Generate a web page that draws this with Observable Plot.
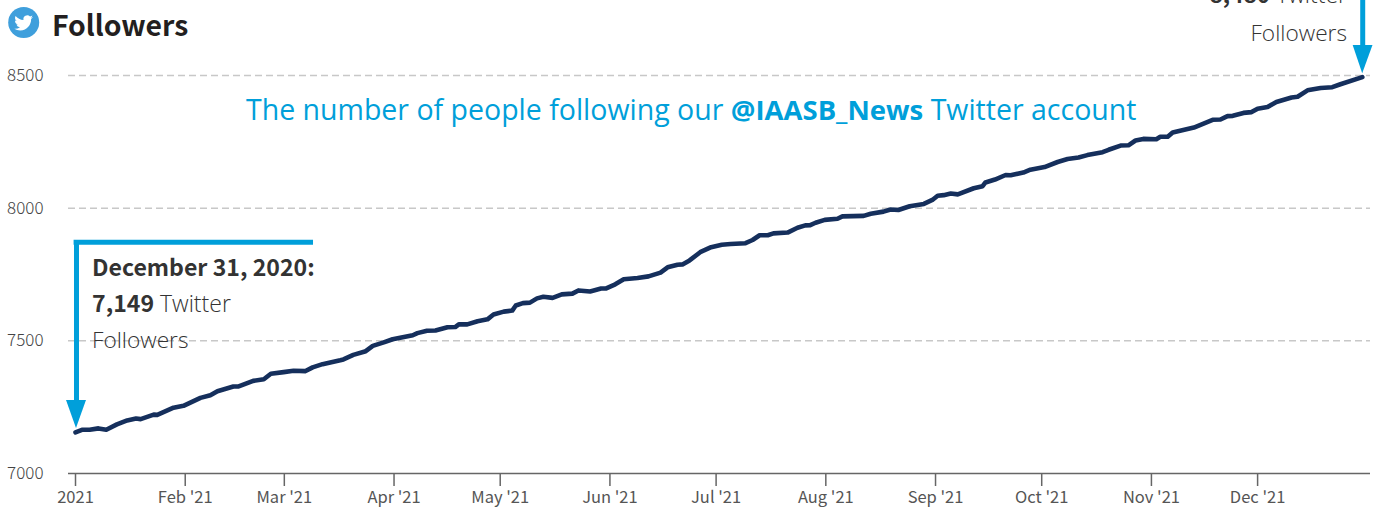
<!DOCTYPE html>
<html><head><meta charset="utf-8">
<script src="https://cdn.jsdelivr.net/npm/d3@7"></script>
<script src="https://cdn.jsdelivr.net/npm/@observablehq/plot@0.6"></script>
<style>
html,body{margin:0;padding:0;background:#fff;overflow:hidden}
#wrap{position:relative;width:1384px;height:510px;overflow:hidden}
#chart svg{display:block}
.t{position:absolute;white-space:nowrap;line-height:1}
.src{font-family:"Noto Sans CJK SC","Noto Sans",sans-serif}
.lite{font-family:"Open Sans",sans-serif;font-weight:300;color:#333}
</style></head><body>
<div id="wrap"><div id="chart"></div>
<svg class="t" style="left:8px;top:7px" width="32" height="32" viewBox="0 0 32 32"><circle cx="15.7" cy="15.5" r="15.5" fill="#3f9fdc"/><g transform="translate(6.3 6.5) scale(0.78)"><path fill="#fff" d="M23.953 4.57a10 10 0 01-2.825.775 4.958 4.958 0 002.163-2.723c-.951.555-2.005.959-3.127 1.184a4.92 4.92 0 00-8.384 4.482C7.69 8.095 4.067 6.13 1.64 3.162a4.822 4.822 0 00-.666 2.475c0 1.71.87 3.213 2.188 4.096a4.904 4.904 0 01-2.228-.616v.06a4.923 4.923 0 003.946 4.827 4.996 4.996 0 01-2.212.085 4.936 4.936 0 004.604 3.417 9.867 9.867 0 01-6.102 2.105c-.39 0-.779-.023-1.17-.067a13.995 13.995 0 007.557 2.209c9.053 0 13.998-7.496 13.998-13.985 0-.21 0-.42-.015-.63A9.935 9.935 0 0024 4.59z"/></g></svg>
<div class="t src" id="title" style="left:52px;top:10px;font-size:28.4px;font-weight:700;color:#231f20"></div>
<div class="t" id="sub" style="left:246px;top:95px;font-size:28.5px;font-family:'Open Sans',sans-serif;color:#009fda"></div>
<div class="t src" id="a1" style="left:92px;top:255px;font-size:23.1px;font-weight:700;color:#333"></div>
<div class="t" id="a2" style="left:92px;top:291px;font-size:23.1px"></div>
<div class="t lite" id="a3" style="left:92px;top:329px;font-size:22.7px"></div>
<div class="t" id="b2" style="right:37px;top:-17px;font-size:22.6px"></div>
<div class="t lite" id="b3" style="right:37px;top:22px;font-size:22.7px"></div>
</div>
<script>
const dayOfYear = [0,2,4,6.5,8.7,11.7,14.6,17.1,18.4,22.1,23.1,27.7,30.5,35.3,38.1,40.1,44.6,46.1,50.2,53.2,55.2,58.8,61.6,65,67,69.8,74.8,75.7,78.5,82,84,87.1,89.6,95.3,96.6,99.3,101.7,105.1,107.3,108.3,110.7,113.6,116.4,118.1,121,123.4,124.4,126.4,128.4,130.4,132.2,134.8,137.4,140.4,142.1,145.4,148.5,149.8,152.5,154.9,158.8,161.9,165.3,167.3,170.1,171.5,173.5,176.5,179.6,182.6,185.1,189.3,191.3,193.3,195.6,197.2,201.2,204,206.2,207.6,209.1,211.7,215.3,216.7,222.7,224.7,228.3,230.3,232.5,235.7,239.7,242.1,243.6,245.3,247.3,249.3,253.8,256.3,257.1,259.8,262.8,264.2,267.8,269.8,273.8,277.5,280.3,283.4,285.9,290.2,291.9,295.3,297.5,299.5,301.7,305.4,306.5,308.6,310,316,321.3,323.5,325.5,327,330,332.3,334,336.8,339.3,343.6,345.3,348.1,351.8,355.1,357.4,363.6];
const followers = [7155,7165,7165,7170,7165,7185,7200,7207,7205,7222,7221,7248,7255,7285,7295,7310,7328,7328,7349,7355,7376,7382,7387,7386,7400,7412,7427,7430,7447,7461,7481,7494,7506,7521,7529,7538,7539,7551,7552,7562,7562,7574,7581,7599,7610,7614,7633,7642,7644,7660,7666,7662,7675,7678,7690,7686,7697,7697,7713,7732,7737,7743,7757,7777,7787,7788,7803,7834,7853,7862,7865,7868,7880,7898,7898,7905,7908,7926,7935,7936,7945,7956,7960,7969,7971,7979,7987,7995,7993,8007,8016,8031,8047,8049,8055,8052,8075,8083,8097,8108,8125,8124,8134,8145,8155,8174,8185,8191,8200,8211,8220,8236,8237,8255,8261,8260,8269,8269,8285,8304,8333,8334,8347,8348,8359,8362,8375,8381,8400,8417,8420,8444,8453,8456,8467,8494];
const yTicks = [7000,7500,8000,8500];
const xTickDays = [0,31,59,90,120,151,181,212,243,273,304,334];
const xTickLabels = ["2021","Feb '21","Mar '21","Apr '21","May '21","Jun '21","Jul '21","Aug '21","Sep '21","Oct '21","Nov '21","Dec '21"];
const titleText = "Followers";
const subParts = ["The number of people following our ","@IAASB_News"," Twitter account"];
const startNote = ["December 31, 2020:","7,149"," Twitter","Followers"];
const endNote = ["8,480"," Twitter","Followers"];

const BLUE = "#009fda";
const day = d => new Date(Date.UTC(2021,0,1) + d*864e5);
const series = dayOfYear.map((d,i)=>({date:day(d),v:followers[i]}));
const shaftL = [{x:0.28,y1:7275,y2:7872}];
const barL = [{x1:-0.4,x2:67.25,y:7872}];
const headL = [{x:-2.54,y1:7275,y2:7275},{x:0.28,y1:7275,y2:7170},{x:3.1,y1:7275,y2:7275}];
const shaftR = [{x:363.7,y1:8613,y2:8800}];
const headR = [{x:361,y1:8613,y2:8613},{x:363.7,y1:8613,y2:8507},{x:366.6,y1:8613,y2:8613}];

const plot = Plot.plot({
  width:1384,height:510,marginLeft:68,marginRight:14,marginTop:75,marginBottom:37,
  style:{background:"transparent",overflow:"hidden"},
  x:{type:"utc",domain:[day(-1.98),day(365.9)]},
  y:{domain:[7000,8500]},
  marks:[
    Plot.gridY(yTicks.slice(1),{stroke:"#c8c8c8",strokeOpacity:1,strokeWidth:1.5,strokeDasharray:"7 4"}),
    Plot.ruleY([7000],{stroke:"#666",strokeWidth:1.5}),
    Plot.axisY({ticks:yTicks,tickSize:0,tickPadding:25,label:null,tickFormat:d=>String(d),
      fontSize:17,fontFamily:"'Noto Sans CJK SC',sans-serif",fontWeight:300,color:"#444"}),
    Plot.axisX({ticks:xTickDays.map(day),tickSize:13,tickPadding:5,label:null,
      tickFormat:(d,i)=>xTickLabels[i],stroke:"#666",strokeWidth:1.5,
      fontSize:16.5,fontFamily:"'Noto Sans CJK SC',sans-serif",color:"#555"}),
    Plot.ruleX(shaftL,{x:d=>day(d.x),y1:"y1",y2:"y2",stroke:BLUE,strokeWidth:5}),
    Plot.ruleY(barL,{x1:d=>day(d.x1),x2:d=>day(d.x2),y:"y",stroke:BLUE,strokeWidth:5}),
    Plot.areaY(headL,{x:d=>day(d.x),y1:"y1",y2:"y2",fill:BLUE}),
    Plot.ruleX(shaftR,{x:d=>day(d.x),y1:"y1",y2:"y2",stroke:BLUE,strokeWidth:5}),
    Plot.areaY(headR,{x:d=>day(d.x),y1:"y1",y2:"y2",fill:BLUE}),
    Plot.line(series,{x:"date",y:"v",stroke:"#152f5c",strokeWidth:4.6,strokeLinejoin:"round",strokeLinecap:"round"})
  ]
});
document.getElementById("chart").appendChild(plot);
const el=id=>document.getElementById(id);
const add=(p,txt,css)=>{const s=document.createElement("span");s.textContent=txt;s.style.cssText=css||"";p.appendChild(s);};
el("title").textContent=titleText;
add(el("sub"),subParts[0],"font-weight:400");add(el("sub"),subParts[1],"font-weight:700;font-size:27.5px");add(el("sub"),subParts[2],"font-weight:400");
el("a1").textContent=startNote[0];
const boldC="font-family:'Noto Sans CJK SC',sans-serif;font-weight:700;color:#333";
const liteC="font-family:'Open Sans',sans-serif;font-weight:300;color:#333;font-size:23px";
add(el("a2"),startNote[1],boldC);add(el("a2"),startNote[2],liteC);
el("a3").textContent=startNote[3];
add(el("b2"),endNote[0],boldC);add(el("b2"),endNote[1],liteC);
el("b3").textContent=endNote[2];
</script></body></html>
